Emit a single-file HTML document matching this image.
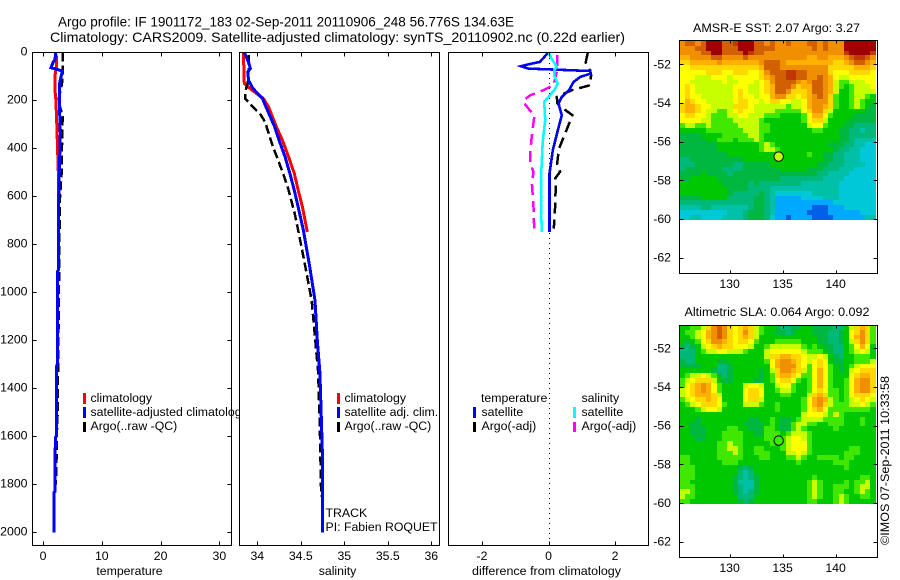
<!DOCTYPE html>
<html lang="en">
<head>
<meta charset="utf-8">
<title>Argo profile</title>
<style>
html,body{margin:0;padding:0;background:#fff;}
svg{display:block;}
text{font-family:"Liberation Sans",sans-serif;font-size:12.3px;fill:#000;}
.ttl{font-size:14px;}
</style>
</head>
<body>
<svg id="chart" xmlns="http://www.w3.org/2000/svg" width="900" height="580" viewBox="0 0 900 580">
  <defs>
    <clipPath id="clip-p1"><rect x="33" y="53" width="198" height="492"/></clipPath>
    <clipPath id="clip-p2"><rect x="240" y="53" width="199" height="492"/></clipPath>
    <clipPath id="clip-p3"><rect x="449" y="53" width="199" height="492"/></clipPath>
    <clipPath id="clip-legend"><rect x="0" y="380" width="240" height="60"/></clipPath>
  </defs>
  <rect x="0" y="0" width="900" height="580" fill="#fff"/>
  <text class="ttl" x="58" y="26.5" textLength="456" lengthAdjust="spacingAndGlyphs">Argo profile: IF 1901172_183 02-Sep-2011 20110906_248 56.776S 134.63E</text>
  <text class="ttl" x="50" y="42" textLength="575" lengthAdjust="spacingAndGlyphs">Climatology: CARS2009. Satellite-adjusted climatology: synTS_20110902.nc (0.22d earlier)</text>

  <g id="maps"></g>
  <g id="lines"></g>
  <g id="axes"></g>

  <text x="129.5" y="575" text-anchor="middle">temperature</text>
  <text x="337.5" y="575" text-anchor="middle">salinity</text>
  <text x="472" y="575" textLength="149" lengthAdjust="spacingAndGlyphs">difference from climatology</text>

  <g shape-rendering="crispEdges">
    <rect x="83" y="393" width="3" height="11" fill="#f00"/>
    <rect x="83" y="407" width="3" height="11" fill="#00f"/>
    <rect x="83" y="422" width="3" height="10" fill="#000"/>
  </g>
  <text x="90.5" y="402">climatology</text>
  <text x="90.5" y="416" clip-path="url(#clip-legend)">satellite-adjusted climatology</text>
  <text x="90.5" y="430">Argo(..raw -QC)</text>

  <g shape-rendering="crispEdges">
    <rect x="337" y="393" width="3" height="11" fill="#f00"/>
    <rect x="337" y="407" width="3" height="11" fill="#00f"/>
    <rect x="337" y="422" width="3" height="10" fill="#000"/>
  </g>
  <text x="344.5" y="402">climatology</text>
  <text x="344.5" y="416">satellite adj. clim.</text>
  <text x="344.5" y="430">Argo(..raw -QC)</text>
  <text x="325.5" y="517">TRACK</text>
  <text x="325.5" y="531">PI: Fabien ROQUET</text>

  <g shape-rendering="crispEdges">
    <rect x="473" y="407" width="3" height="11" fill="#00f"/>
    <rect x="473" y="422" width="3" height="10" fill="#000"/>
    <rect x="573" y="407" width="3" height="11" fill="#0ff"/>
    <rect x="573" y="422" width="3" height="10" fill="#f0f"/>
  </g>
  <text x="481" y="402">temperature</text>
  <text x="481.5" y="416">satellite</text>
  <text x="481.5" y="430">Argo(-adj)</text>
  <text x="581.5" y="402">salinity</text>
  <text x="581.5" y="416">satellite</text>
  <text x="581.5" y="430">Argo(-adj)</text>

  <text x="693" y="32" textLength="167" lengthAdjust="spacingAndGlyphs">AMSR-E SST: 2.07 Argo: 3.27</text>
  <text x="684.5" y="316" textLength="185" lengthAdjust="spacingAndGlyphs">Altimetric SLA: 0.064 Argo: 0.092</text>
  <text transform="translate(889,545) rotate(-90)" textLength="169" lengthAdjust="spacingAndGlyphs">©IMOS 07-Sep-2011 10:33:58</text>
</svg>

<script>
// ---------- temperature panel ----------
const climTempDepth = [0,20,60,100,150,200,300,500,600,750];
const climTempValue = [2.1,2.3,2.3,2.0,2.0,2.2,2.35,2.6,2.6,2.6];
const satTempDepth = [0,30,40,64,71,78,108,136,200,337,600,905,915,1300,1310,1600,1605,1830,1835,2000];
const satTempValue = [2.15,2.05,1.75,1.36,2.3,3.3,3.0,2.78,2.78,2.95,2.67,2.67,2.43,2.43,2.26,2.26,2.1,2.05,1.85,1.85];
const argoTempDepth = [0,80,120,150,200,268,340,490,617,1000,1350,1500,1550,1700,1800];
const argoTempValue = [3.35,3.35,3.3,3.06,2.6,3.35,3.25,3.2,2.85,2.7,2.55,2.5,2.4,2.3,2.2];

// ---------- salinity panel ----------
const climSalDepth = [0,130,158,193,228,311,367,436,505,575,645,749];
const climSalValue = [33.84,33.85,33.94,34.07,34.13,34.22,34.29,34.36,34.425,34.47,34.52,34.575];
const satSalDepth = [0,47,68,82,117,151,193,228,311,367,436,505,575,645,742,888,1034,1200,1335,1575,1700,2000];
const satSalValue = [33.85,33.905,33.92,33.89,33.9,33.95,34.06,34.1,34.2,34.25,34.32,34.375,34.425,34.47,34.53,34.6,34.663,34.69,34.72,34.74,34.75,34.75];
const argoSalDepth = [12,68,130,165,193,228,255,290,325,394,450,519,575,672,742,888,1034,1200,1335,1575,1850];
const argoSalValue = [33.9,33.9,33.89,33.86,33.86,33.95,34.03,34.09,34.12,34.18,34.24,34.31,34.36,34.43,34.47,34.55,34.625,34.667,34.7,34.72,34.735];

// ---------- difference panel ----------
const diffTempSatDepth = [0,40,50,58,68,78,89,103,124,158,186,214,262,325,408,505,749];
const diffTempSatValue = [0,-0.26,-0.6,-0.83,-0.6,1.25,1.25,0.95,0.75,0.62,0.4,0.3,0.4,0.28,0.13,0.03,0.03];
const diffSalSatDepth = [0,28,61,75,97,130,158,207,283,367,505,672,749];
const diffSalSatValue = [0,0.1,0.25,0.17,0.17,0.28,0.17,-0.13,-0.1,-0.17,-0.22,-0.22,-0.2];
const diffSalArgoDepth = [11,75,137,158,179,200,214,235,262,325,400,463,498,547,645,735];
const diffSalArgoValue = [0.26,0.26,0.15,-0.15,-0.55,-0.75,-0.72,-0.6,-0.42,-0.48,-0.54,-0.55,-0.45,-0.5,-0.45,-0.43];
const diffTempArgoDepth = [3,42,75,96,137,158,186,214,242,262,311,400,463,498,526,547,645,735];
const diffTempArgoValue = [1.18,1.12,1.25,1.28,1.25,0.7,0.25,0.27,0.52,0.72,0.58,0.32,0.26,0.35,0.2,0.22,0.2,0.16];

// ---------- tick labels ----------
const depthTicks = [0,200,400,600,800,1000,1200,1400,1600,1800,2000];
const tempTicks = [0,10,20,30];
const salTicks = [34,34.5,35,35.5,36];
const diffTicks = [-2,0,2];
const lonTicks = [130,135,140];
const latTicks = [-52,-54,-56,-58,-60,-62];

// ---------- argo float position ----------
const floatLon = [134.63];
const floatLat = [-56.776];
const floatSstBin = [7];
const floatSlaBin = [7.6];

// ---------- map colour levels, one bin per grid cell ----------
const binColors = ['#a00000','#c03800','#d06000','#f09000','#ffb000','#ffd800','#ffff00','#c8ff00','#40e800','#00c800','#00b840','#00b878','#00c0a8','#00c8d8','#00a8ff','#0060e8'];
const sstBins = [
[3,2,2,3,2,0,0,0,2,2,1,0,0,0,2,2,3,2,3,3,2,3,3,3,2,2,3,2,3,3,3,0,0,0,0,0,0],
[3,3,3,2,2,0,0,0,2,2,2,0,0,0,2,2,2,2,3,3,3,3,3,3,3,2,3,2,3,3,3,0,0,0,0,0,0],
[3,3,3,3,2,2,0,0,2,2,2,2,0,1,2,2,3,3,3,3,3,3,3,3,3,3,3,3,3,3,3,1,0,0,0,0,1],
[4,4,3,3,3,3,2,2,3,3,3,3,2,3,3,3,3,3,3,3,3,3,3,3,4,4,3,3,4,4,4,3,2,1,1,2,3],
[5,5,4,4,4,4,4,3,4,4,4,4,4,4,4,3,2,2,2,3,4,4,4,4,4,4,4,4,4,5,5,4,3,2,2,3,4],
[6,6,5,5,5,5,5,5,5,5,5,5,5,5,5,4,2,2,2,3,3,3,3,3,3,3,3,3,5,5,5,5,5,4,4,4,5],
[6,6,6,6,6,5,5,5,6,6,5,5,5,6,6,5,3,2,2,2,1,1,2,2,3,3,3,3,5,6,6,6,5,5,5,5,6],
[6,6,6,7,7,7,6,6,6,7,6,6,6,6,6,5,4,3,2,2,1,1,2,2,3,3,2,3,4,6,7,7,6,6,6,6,6],
[6,6,7,7,7,7,7,7,6,7,7,6,6,6,7,6,5,3,2,2,2,2,3,4,3,2,2,3,4,7,8,8,7,7,7,6,6],
[6,5,6,7,7,7,7,7,7,7,6,6,6,7,7,6,5,4,2,2,2,3,5,4,4,2,2,3,4,7,8,9,8,7,7,7,6],
[6,5,6,7,7,7,7,7,7,7,6,5,6,7,7,6,5,4,2,2,3,5,5,5,4,2,2,3,4,7,9,9,8,7,7,7,7],
[6,5,6,6,7,7,7,7,7,7,6,5,6,6,7,6,6,4,3,3,5,5,6,5,4,3,2,3,5,8,9,9,8,7,7,8,9],
[6,4,5,6,6,7,7,7,7,7,6,5,5,6,6,7,6,5,5,6,6,7,7,6,4,3,3,3,5,8,9,9,8,7,8,9,9],
[5,4,4,5,6,6,7,7,7,7,5,5,5,6,7,7,7,7,7,7,8,7,7,6,4,3,3,4,5,8,9,9,8,7,8,9,10],
[5,4,4,5,6,7,7,8,8,7,6,5,6,6,7,7,7,7,8,8,8,8,8,6,5,3,3,5,7,9,9,9,9,9,9,10,10],
[6,5,5,6,6,7,8,8,8,7,7,6,6,7,7,7,8,8,8,9,9,9,9,8,6,4,4,6,8,9,9,9,9,10,10,10,10],
[6,6,6,6,7,7,8,8,8,8,7,7,7,7,7,8,9,9,9,9,9,9,9,8,6,5,5,7,9,9,9,9,10,10,10,10,10],
[8,7,7,8,8,7,8,8,8,8,8,7,7,7,7,8,8,9,9,9,9,9,9,9,7,6,6,8,9,9,9,10,10,11,11,11,11],
[9,9,9,9,9,8,8,8,8,8,8,8,7,7,7,8,8,9,9,9,9,9,9,9,9,8,8,9,9,9,10,10,11,11,12,11,11],
[10,10,10,10,9,9,9,9,8,8,8,8,8,7,7,8,9,9,9,9,9,9,9,9,9,9,9,9,9,9,10,10,11,11,11,11,11],
[10,10,10,10,10,9,9,8,8,8,9,8,8,8,7,8,9,9,9,9,9,9,9,9,9,9,9,9,9,9,10,10,11,12,12,12,12],
[10,10,10,10,10,10,10,9,9,9,9,9,9,9,9,8,7,8,9,9,9,9,9,9,9,9,9,9,10,10,10,11,11,12,12,13,13],
[10,10,10,10,10,10,10,9,9,9,9,9,9,9,9,8,7,7,8,9,9,9,9,9,9,9,9,9,9,10,11,11,12,12,13,13,13],
[10,10,10,10,10,10,10,10,10,9,9,9,9,9,9,9,9,9,9,9,9,9,9,9,8,9,9,10,10,11,11,12,12,12,13,13,13],
[11,11,10,10,10,10,10,10,10,10,10,10,9,9,9,9,9,9,9,9,9,9,9,9,9,9,9,10,10,11,11,12,12,12,13,13,13],
[11,11,11,10,10,10,10,10,10,10,11,11,10,10,10,10,10,9,9,9,9,9,9,9,9,9,10,10,11,11,11,12,12,12,12,13,13],
[11,10,10,10,10,10,10,10,11,11,11,11,10,10,10,10,10,10,10,9,9,9,9,9,10,10,10,11,11,11,12,12,12,13,13,13,13],
[10,10,10,10,9,10,10,10,10,11,10,10,10,10,10,10,10,10,10,10,10,10,10,10,10,10,11,11,12,12,12,12,13,13,13,13,13],
[10,10,9,9,9,9,9,10,10,10,10,10,10,10,10,10,10,10,10,11,11,11,11,11,11,11,11,12,12,12,12,13,13,13,13,13,13],
[9,9,9,9,9,9,9,9,10,10,10,10,10,11,10,11,11,11,11,11,11,11,11,12,12,12,12,12,12,12,13,13,13,13,13,13,13],
[9,9,9,9,9,9,9,9,9,10,10,10,10,11,11,11,11,12,12,12,12,12,12,12,12,12,12,12,12,12,13,13,13,13,13,13,13],
[9,9,9,9,9,9,9,9,9,10,11,11,11,11,11,10,11,12,13,13,13,13,13,13,13,12,12,12,12,12,13,13,13,13,13,13,13],
[10,10,10,10,9,9,9,9,9,11,11,11,11,11,10,10,11,12,14,14,14,14,14,13,13,13,13,12,12,12,13,13,13,13,13,13,13],
[11,11,11,11,11,11,11,11,11,11,11,11,11,11,10,10,11,12,14,14,14,14,14,14,14,14,14,14,14,13,13,13,13,13,13,13,13],
[12,12,12,12,11,11,12,12,12,12,12,12,12,11,10,10,11,12,14,14,14,14,14,14,14,15,15,15,14,14,14,13,13,13,13,13,13],
[13,13,13,13,13,13,13,13,13,12,12,12,11,10,10,10,11,12,14,14,14,14,14,14,15,15,15,15,14,14,14,14,14,14,13,13,13],
[13,13,12,12,13,13,13,13,12,12,12,12,11,10,10,10,11,13,14,14,15,14,14,14,14,15,15,15,15,14,14,14,14,14,14,12,12]
];
const slaBins = [
[9,9,8,8,7,5,3,2,3,5,6,5,4,5,7,8,9,9,10,11,11,10,10,9,9,10,10,10,10,11,11,9,7,5,4,5,8],
[9,8,8,7,6,4,3,2,3,5,6,5,3,5,7,8,9,9,10,10,11,10,9,9,9,10,10,10,11,11,10,9,6,5,3,5,8],
[9,9,8,7,6,4,3,2,3,5,6,5,4,5,7,9,9,9,9,9,9,9,9,9,9,9,10,10,11,11,10,9,6,4,3,5,8],
[9,10,9,8,6,5,3,3,4,5,6,5,5,6,8,9,9,9,8,8,8,8,8,9,9,9,10,10,11,11,10,9,7,5,3,5,8],
[10,11,10,9,7,6,5,4,5,5,6,6,6,7,9,9,8,7,7,7,7,7,7,8,9,8,9,10,10,11,11,9,8,6,4,6,9],
[11,11,11,9,8,7,7,6,6,7,7,7,8,9,9,9,7,6,6,6,6,6,6,7,8,8,8,9,10,11,11,9,8,7,6,7,9],
[11,11,11,9,9,9,9,9,9,9,9,9,9,9,9,9,7,5,5,4,4,5,5,6,7,7,6,7,9,10,11,9,9,8,8,8,9],
[10,11,11,9,9,9,9,10,10,9,9,9,9,9,9,9,8,6,4,3,3,4,5,6,7,6,5,6,9,10,10,9,9,8,8,8,7],
[10,10,10,10,9,9,9,11,11,10,9,9,9,9,9,9,9,6,4,3,3,3,5,6,8,6,5,6,8,9,10,9,8,7,6,6,6],
[9,9,9,9,9,9,10,11,11,10,9,9,9,9,9,10,9,7,5,3,3,4,5,7,8,6,4,6,8,9,10,9,7,6,5,5,5],
[9,8,7,7,6,7,8,10,11,10,9,9,9,9,9,10,9,8,5,4,4,5,6,8,8,6,4,6,8,9,9,9,6,5,4,4,5],
[8,7,6,5,5,5,7,9,10,10,9,9,9,9,10,10,9,8,6,5,5,6,8,9,8,6,4,6,8,9,9,8,6,4,3,3,5],
[8,6,5,4,3,4,6,8,9,9,9,9,7,6,6,7,9,9,7,6,6,8,9,9,8,6,4,6,8,9,9,8,6,4,3,3,5],
[7,6,5,4,3,4,6,8,9,9,9,9,6,5,5,6,9,9,8,7,7,8,9,9,8,6,5,6,8,8,9,8,6,4,3,3,5],
[7,6,5,4,4,4,5,7,9,9,9,9,6,5,5,6,9,9,9,8,8,9,9,9,7,5,4,5,8,8,9,8,6,5,5,5,6],
[8,7,6,5,5,4,5,6,9,9,9,9,6,5,5,7,9,9,9,9,9,9,9,8,6,4,3,4,7,8,9,8,7,6,5,6,7],
[9,8,7,6,5,5,5,6,8,9,9,9,7,7,7,8,9,9,8,9,9,9,9,8,6,4,3,5,7,8,8,8,7,7,6,7,8],
[9,9,9,8,7,6,6,7,9,9,9,9,9,9,9,9,9,9,8,9,9,9,9,8,6,5,4,6,8,8,8,8,8,8,8,8,9],
[9,9,9,9,9,9,9,9,9,9,9,9,9,9,9,9,9,9,9,9,9,9,9,7,6,6,6,7,8,7,8,9,9,9,9,9,9],
[9,9,9,10,9,9,9,9,9,9,9,9,9,10,10,9,9,8,9,10,10,9,8,7,7,7,7,8,8,8,8,9,9,9,8,9,9],
[9,9,10,10,9,9,9,9,9,9,9,9,10,10,10,10,9,8,9,10,10,8,7,7,8,8,9,9,8,8,8,9,9,9,8,9,9],
[9,9,10,10,10,9,9,9,9,8,8,9,9,10,10,10,8,8,9,10,10,8,7,8,9,9,9,9,9,8,9,9,9,9,9,9,9],
[9,9,10,10,10,9,9,9,8,8,8,8,9,9,10,10,8,8,8,9,8,7,7,7,8,9,9,9,9,9,9,9,9,9,9,9,9],
[9,9,9,10,10,9,9,9,8,8,8,8,9,9,9,9,8,8,9,8,7,6,6,7,8,9,9,9,9,9,9,9,9,9,9,9,9],
[9,9,9,9,9,9,9,8,8,7,8,8,9,9,9,9,9,8,9,8,7,6,6,6,8,9,9,9,9,9,9,9,9,9,9,9,9],
[9,9,9,9,9,9,9,8,8,7,7,8,9,9,8,8,9,9,9,8,7,6,6,6,8,9,9,9,9,9,9,9,8,8,9,9,9],
[9,9,9,9,9,9,9,8,8,8,7,8,9,9,8,8,8,9,9,9,7,7,6,7,8,9,9,9,9,9,9,8,8,8,9,9,9],
[8,8,9,9,9,9,9,8,8,8,8,8,9,9,9,8,8,9,9,9,8,8,7,8,9,9,8,8,8,8,9,8,8,9,9,9,9],
[8,8,9,9,9,9,9,9,8,8,8,9,9,9,9,9,9,9,9,9,9,9,8,9,9,9,9,9,9,8,8,8,9,9,9,9,9],
[8,8,8,9,9,9,9,9,9,9,9,10,11,10,9,9,9,9,9,9,9,9,9,9,9,9,9,9,9,9,9,8,9,9,9,9,9],
[8,8,8,9,9,9,9,9,9,9,9,11,12,11,9,9,9,9,9,9,9,9,9,9,9,9,9,9,9,9,9,9,9,9,9,9,9],
[8,8,8,9,9,9,9,9,9,9,10,11,12,11,10,9,9,9,9,9,9,9,9,9,9,8,9,9,9,9,9,9,9,9,8,8,9],
[8,8,9,9,9,9,9,9,9,9,10,12,12,12,10,9,9,9,9,9,9,9,9,9,8,7,8,9,9,9,9,8,9,8,8,7,9],
[8,8,8,9,9,9,9,9,9,9,10,11,12,12,10,9,9,9,9,9,9,9,9,9,8,7,8,9,9,8,8,8,9,8,7,7,9],
[7,7,8,9,9,9,9,9,9,9,10,11,12,11,10,9,9,9,9,9,9,9,9,9,8,7,8,9,9,8,8,9,9,8,7,8,9],
[7,8,8,9,9,9,9,9,9,9,9,11,11,11,9,9,9,9,9,9,9,9,9,9,8,7,8,9,9,8,7,8,9,9,8,8,9],
[8,8,9,9,9,9,9,9,9,9,9,10,11,10,9,9,9,9,9,9,9,9,9,9,8,8,9,9,9,8,7,8,9,9,9,9,9]
];

const NS = 'http://www.w3.org/2000/svg';
const linesG = document.getElementById('lines');
const axesG = document.getElementById('axes');
const mapsG = document.getElementById('maps');

// axis functions
function yDepth(d){ return 52.3 + 0.24 * d; }
function xTemp(v){ return 43 + 5.88 * v; }
function xSal(v){ return 257.3 + 87 * (v - 34); }
function xDiff(v){ return 548.5 + 33.25 * v; }
function xLon(v){ return 782.6 + 10.6 * (v - 135); }
function ySstLat(v){ return 64.3 + 19.33 * (-52 - v); }
function ySlaLat(v){ return 348.3 + 19.33 * (-52 - v); }

function binColor(v){
  const i = Math.max(0, Math.min(binColors.length - 1, Math.round(v)));
  return binColors[i];
}

function drawProfile(depths, values, xFn, color, width, dash, clip, name){
  const el = document.createElementNS(NS, 'polyline');
  el.setAttribute('points', depths.map(function(d, i){ return xFn(values[i]).toFixed(1) + ',' + yDepth(d).toFixed(1); }).join(' '));
  el.setAttribute('fill', 'none');
  el.setAttribute('stroke', color);
  el.setAttribute('stroke-width', width);
  el.setAttribute('shape-rendering', 'crispEdges');
  if (dash) el.setAttribute('stroke-dasharray', dash);
  el.setAttribute('clip-path', 'url(#' + clip + ')');
  
  
  linesG.appendChild(el);
}

drawProfile(climTempDepth, climTempValue, xTemp, '#f00', 3, null, 'clip-p1', 'climatology-temperature-line');
drawProfile(argoTempDepth, argoTempValue, xTemp, '#000', 2.5, '9 4', 'clip-p1', 'argo-temperature-line');
drawProfile(satTempDepth, satTempValue, xTemp, '#00f', 3, null, 'clip-p1', 'satellite-temperature-line');
drawProfile(climSalDepth, climSalValue, xSal, '#f00', 3, null, 'clip-p2', 'climatology-salinity-line');
drawProfile(argoSalDepth, argoSalValue, xSal, '#000', 2.5, '9 4', 'clip-p2', 'argo-salinity-line');
drawProfile(satSalDepth, satSalValue, xSal, '#00f', 3, null, 'clip-p2', 'satellite-salinity-line');
drawProfile(diffSalArgoDepth, diffSalArgoValue, xDiff, '#f0f', 2.5, '11 6', 'clip-p3', 'argo-salinity-difference-line');
drawProfile(diffTempArgoDepth, diffTempArgoValue, xDiff, '#000', 2.5, '11 6', 'clip-p3', 'argo-temperature-difference-line');
drawProfile(diffTempSatDepth, diffTempSatValue, xDiff, '#00f', 2.6, null, 'clip-p3', 'satellite-temperature-difference-line');
drawProfile(diffSalSatDepth, diffSalSatValue, xDiff, '#0ff', 2.6, null, 'clip-p3', 'satellite-salinity-difference-line');

function drawMap(bins, yFn, cellName){
  const lonStart = 125.28, lonStep = 0.5, latStart = -50.79, latStep = -0.25;
  bins.forEach(function(row, r){
    row.forEach(function(v, c){
      const x0 = Math.round(xLon(lonStart + c * lonStep));
      const x1 = Math.round(xLon(lonStart + (c + 1) * lonStep));
      const y0 = Math.round(yFn(latStart + r * latStep));
      const y1 = Math.round(yFn(latStart + (r + 1) * latStep));
      const el = document.createElementNS(NS, 'rect');
      el.setAttribute('x', x0);
      el.setAttribute('y', y0);
      el.setAttribute('width', x1 - x0);
      el.setAttribute('height', y1 - y0);
      el.setAttribute('fill', binColor(v));
      el.setAttribute('shape-rendering', 'crispEdges');
      
      
      mapsG.appendChild(el);
    });
  });
}
drawMap(sstBins, ySstLat, 'sst-cell');
drawMap(slaBins, ySlaLat, 'sla-cell');

function line(x1, y1, x2, y2, name, dash){
  const el = document.createElementNS(NS, 'line');
  el.setAttribute('x1', x1);
  el.setAttribute('y1', y1);
  el.setAttribute('x2', x2);
  el.setAttribute('y2', y2);
  el.setAttribute('stroke', '#000');
  el.setAttribute('stroke-width', '1');
  el.setAttribute('shape-rendering', 'crispEdges');
  if (dash) el.setAttribute('stroke-dasharray', dash);
  
  
  axesG.appendChild(el);
}
function label(x, y, str, anchor, name){
  const el = document.createElementNS(NS, 'text');
  el.setAttribute('x', x);
  el.setAttribute('y', y);
  el.setAttribute('text-anchor', anchor);
  
  
  el.textContent = str;
  axesG.appendChild(el);
}
function frame(x0, y0, x1, y1, name){
  const el = document.createElementNS(NS, 'rect');
  el.setAttribute('x', x0);
  el.setAttribute('y', y0);
  el.setAttribute('width', x1 - x0);
  el.setAttribute('height', y1 - y0);
  el.setAttribute('fill', 'none');
  el.setAttribute('stroke', '#000');
  el.setAttribute('stroke-width', '1');
  el.setAttribute('shape-rendering', 'crispEdges');
  
  
  axesG.appendChild(el);
}

function profileAxes(x0, x1, ticks, xFn, name){
  const top = 52.5, bottom = 545.5;
  frame(x0, top, x1, bottom, name + '-frame');
  ticks.forEach(function(t){
    const x = Math.round(xFn(t)) + 0.5;
    line(x, top, x, top + 4, name + '-top-tick');
    line(x, bottom, x, bottom - 4, name + '-bottom-tick');
    label(xFn(t), 560, String(t), 'middle', name + '-tick-label');
  });
}
profileAxes(32.5, 231.5, tempTicks, xTemp, 'temperature-axis');
profileAxes(239.5, 439.5, salTicks, xSal, 'salinity-axis');
profileAxes(448.5, 648.5, diffTicks, xDiff, 'difference-axis');

depthTicks.forEach(function(d){
  const y = Math.round(yDepth(d)) + 0.5;
  line(32.5, y, 36.5, y, 'depth-left-tick');
  line(231.5, y, 227.5, y, 'depth-right-tick');
  label(27.5, yDepth(d) + 3, String(d), 'end', 'depth-tick-label');
});

line(Math.round(xDiff(0)) + 0.5, 53, Math.round(xDiff(0)) + 0.5, 545, 'zero-difference-line', '1 4');

function mapAxes(top, bottom, yFn, labelY, name){
  frame(679.5, top, 877.5, bottom, name + '-frame');
  lonTicks.forEach(function(t){
    const x = Math.round(xLon(t)) + 0.5;
    line(x, top, x, top + 3, name + '-top-tick');
    line(x, bottom, x, bottom - 3, name + '-bottom-tick');
    label(xLon(t), labelY, String(t), 'middle', name + '-lon-label');
  });
  latTicks.forEach(function(t){
    const y = Math.round(yFn(t)) + 0.5;
    line(679.5, y, 683.5, y, name + '-left-tick');
    line(877.5, y, 873.5, y, name + '-right-tick');
    label(671, yFn(t) + 4, String(t), 'end', name + '-lat-label');
  });
}
mapAxes(40.5, 273.5, ySstLat, 288, 'sst-map-axis');
mapAxes(325.5, 557.5, ySlaLat, 572, 'sla-map-axis');

function marker(yFn, bin, name){
  const el = document.createElementNS(NS, 'circle');
  el.setAttribute('cx', xLon(floatLon[0]));
  el.setAttribute('cy', yFn(floatLat[0]));
  el.setAttribute('r', '4.7');
  el.setAttribute('fill', binColor(bin));
  el.setAttribute('stroke', '#000');
  el.setAttribute('stroke-width', '1');
  
  
  axesG.appendChild(el);
}
marker(ySstLat, floatSstBin[0], 'sst-float-marker');
marker(ySlaLat, floatSlaBin[0], 'sla-float-marker');
</script>
</body>
</html>
